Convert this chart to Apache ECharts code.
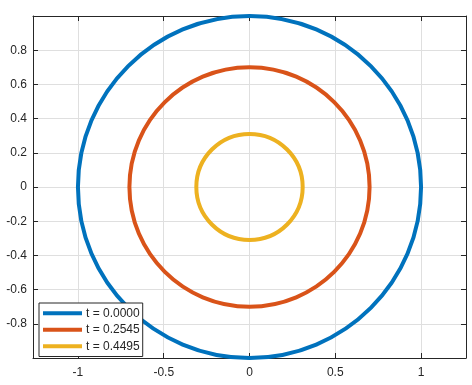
<!DOCTYPE html>
<html>
<head>
<meta charset="utf-8">
<style>html,body{margin:0;padding:0;background:#fff;}#c{width:472px;height:385px;}</style>
<script src="https://cdn.jsdelivr.net/npm/echarts@6/dist/echarts.min.js"></script>
</head>
<body>
<div id="c"></div>
<script>
const seriesNames = ['t = 0.0000', 't = 0.2545', 't = 0.4495'];
const radii = [1.0, 0.70, 0.31];
const centerX = [0, 0, 0];
const centerY = [0, 0, 0];
const colors = ['#0072BD', '#D95319', '#EDB120'];
const xTicks = [-1, -0.5, 0, 0.5, 1];
const xLimits = [-1.262, 1.262];
const yLimits = [-1, 1];
const yInterval = 0.2;

const axisColor = '#262626';
const gridColor = '#dfdfdf';
const font = 'Liberation Sans, Arial, sans-serif';

function renderCircle(params, api) {
  const c = api.coord([api.value(0), api.value(1)]);
  const s = api.size([api.value(2), api.value(2)]);
  return {
    type: 'ellipse',
    shape: { cx: c[0], cy: c[1], rx: s[0], ry: s[1] },
    style: { fill: 'none', stroke: api.visual('color'), lineWidth: 4 }
  };
}

const series = seriesNames.map((name, i) => ({
  type: 'custom',
  name: name,
  coordinateSystem: 'cartesian2d',
  xAxisIndex: 0,
  yAxisIndex: 0,
  clip: false,
  itemStyle: { color: colors[i] },
  encode: { x: 0, y: 1 },
  renderItem: renderCircle,
  data: [[centerX[i], centerY[i], radii[i]]]
}));

const chart = echarts.init(document.getElementById('c'), null, { renderer: 'canvas' });
chart.setOption({
  animation: false,
  backgroundColor: '#fff',
  color: colors,
  grid: { left: 33, top: 16, right: 6, bottom: 27, containLabel: false },
  legend: {
    orient: 'vertical',
    left: 39,
    top: 303,
    padding: [2, 3, 2, 4],
    itemGap: 0,
    itemWidth: 39,
    itemHeight: 4,
    icon: 'rect',
    backgroundColor: '#fff',
    borderColor: axisColor,
    borderWidth: 1,
    textStyle: { fontFamily: font, fontSize: 12, color: axisColor, lineHeight: 16.5, padding: [0, 0, 0, -1] },
    data: seriesNames
  },
  xAxis: [
    {
      type: 'value', position: 'bottom', min: xLimits[0], max: xLimits[1],
      axisLine: { show: true, onZero: false, lineStyle: { color: axisColor, width: 1 } },
      axisTick: { show: true, inside: true, length: 5, customValues: xTicks, lineStyle: { color: axisColor } },
      axisLabel: { show: true, margin: 9, customValues: xTicks, fontFamily: font, fontSize: 12, color: axisColor,
        formatter: v => String(v) },
      splitLine: { show: true, lineStyle: { color: gridColor, width: 1 } }
    },
    {
      type: 'value', position: 'top', min: xLimits[0], max: xLimits[1],
      axisLine: { show: true, onZero: false, lineStyle: { color: axisColor, width: 1 } },
      axisTick: { show: true, inside: true, length: 5, customValues: xTicks, lineStyle: { color: axisColor } },
      axisLabel: { show: false },
      splitLine: { show: false }
    }
  ],
  yAxis: [
    {
      type: 'value', position: 'left', min: yLimits[0], max: yLimits[1], interval: yInterval,
      axisLine: { show: true, onZero: false, lineStyle: { color: axisColor, width: 1 } },
      axisTick: { show: true, inside: true, length: 5, lineStyle: { color: axisColor } },
      axisLabel: { show: true, margin: 6, showMinLabel: false, showMaxLabel: false, fontFamily: font, fontSize: 12, color: axisColor,
        formatter: v => String(Math.round(v * 10) / 10) },
      splitLine: { show: true, lineStyle: { color: gridColor, width: 1 } }
    },
    {
      type: 'value', position: 'right', min: yLimits[0], max: yLimits[1], interval: yInterval,
      axisLine: { show: true, onZero: false, lineStyle: { color: axisColor, width: 1 } },
      axisTick: { show: true, inside: true, length: 5, lineStyle: { color: axisColor } },
      axisLabel: { show: false },
      splitLine: { show: false }
    }
  ],
  series: series
});
</script>
</body>
</html>
